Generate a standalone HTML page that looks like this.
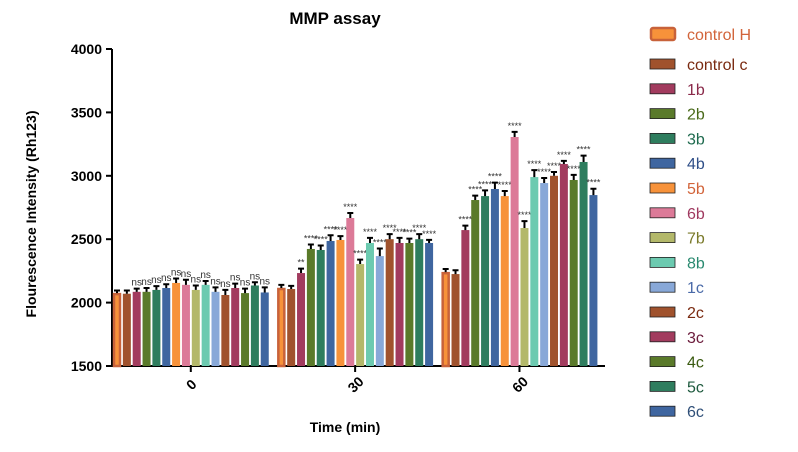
<!DOCTYPE html>
<html><head><meta charset="utf-8"><style>
body{margin:0;background:#fff;width:798px;height:447px;overflow:hidden;font-family:"Liberation Sans",sans-serif}
</style></head><body>
<svg width="798" height="447" xmlns="http://www.w3.org/2000/svg" id="chart">
<text x="335" y="24" text-anchor="middle" font-weight="bold" font-size="17">MMP assay</text>
<text transform="translate(36,214) rotate(-90)" text-anchor="middle" font-weight="bold" font-size="14">Flourescence Intensity (Rh123)</text>
<text x="345" y="432" text-anchor="middle" font-weight="bold" font-size="14">Time (min)</text>
<g id="plot"></g>
<g id="legend"></g>
</svg>
<script>
const categories = ["0","30","60"];
const seriesNames = ["control H","control c","1b","2b","3b","4b","5b","6b","7b","8b","1c","2c","3c","4c","5c","6c"];
const vals0 = [2075,2070,2085,2085,2100,2115,2155,2140,2100,2140,2085,2060,2115,2075,2135,2080];
const vals30 = [2115,2107,2233,2423,2415,2486,2494,2667,2304,2470,2367,2500,2470,2470,2500,2470];
const vals60 = [2240,2225,2572,2809,2840,2896,2840,3306,2588,2990,2943,3000,3093,2967,3109,2848];
const errs0 = [20,25,25,30,30,30,35,40,35,30,35,40,35,35,25,40];
const errs30 = [25,25,35,35,35,45,30,40,35,40,60,40,40,35,40,25];
const errs60 = [25,30,35,35,45,50,40,40,55,55,40,30,25,40,50,50];
const labels0 = ["","","ns","ns","ns","ns","ns","ns","ns","ns","ns","ns","ns","ns","ns","ns"];
const labels30 = ["","","**","****","****","****","****","****","****","****","****","****","****","****","****","****"];
const labels60 = ["","","****","****","****","****","****","****","****","****","****","****","****","****","****","****"];
const yTicks = [1500,2000,2500,3000,3500,4000];
const colors = ["#f7923a","#a0522d","#a23b5e","#5a7a2a","#2e7d5e","#3f66a0","#f7923a","#dc7a98","#b3b86a","#6ccab0","#88a8d8","#a0522d","#a23b5e","#5a7a2a","#2e7d5e","#3f66a0"];
const textColors = ["#d2643a","#7a2a10","#8a2a4a","#4a6a1a","#1e6a4e","#2f4f88","#d2643a","#a03a60","#7a7a2a","#2a8a70","#4a6aa8","#7a2a10","#6a1a3a","#3a5a10","#1e5a3e","#2f4f78"];
const allVals=[vals0,vals30,vals60], allErr=[errs0,errs30,errs60], allLab=[labels0,labels30,labels60];
const NS="http://www.w3.org/2000/svg";
const X0=112, X1=605, Y0=366, Y1=49, YMIN=1500, YMAX=4000;
function y(v){return Y0-(v-YMIN)/(YMAX-YMIN)*(Y0-Y1);}
const groupW=(X1-X0)/categories.length;
const barStep=9.85;
function gStart(g){return X0+1+g*groupW;}
function x(g,i){return gStart(g)+i*barStep;}
function mk(tag,attrs,parent){const e=document.createElementNS(NS,tag);for(const k in attrs)e.setAttribute(k,attrs[k]);parent.appendChild(e);return e;}
const plot=document.getElementById('plot');
let ax=mk('line',{x1:X0,y1:Y1,x2:X0,y2:Y0,stroke:'#000','stroke-width':2},plot);


let bx=mk('line',{x1:X0,y1:Y0,x2:X1,y2:Y0,stroke:'#000','stroke-width':2},plot);


yTicks.forEach(t=>{
  const l=mk('line',{x1:X0-6,x2:X0,y1:y(t),y2:y(t),stroke:'#000','stroke-width':2},plot);
  
  
  const tx=mk('text',{x:X0-10,y:y(t)+5,'text-anchor':'end','font-size':14,'font-weight':'bold'},plot);
  tx.textContent=t;
  
  
});
categories.forEach((c,g)=>{
  const cx=gStart(g)+barStep*8-1;
  const l=mk('line',{x1:cx,x2:cx,y1:Y0,y2:Y0+6,stroke:'#000','stroke-width':2},plot);
  
  
  const tx=mk('text',{transform:`translate(${cx+4},${Y0+22}) rotate(-45)`,'text-anchor':'middle','font-size':14,'font-weight':'bold'},plot);
  tx.textContent=c;
  
  
  allVals[g].forEach((v,i)=>{
    const bxp=x(g,i), top=y(v), e=allErr[g][i];
    let r;
    if(i===0){
      r=mk('rect',{x:bxp+1,y:top+1,width:6,height:Y0-top-1,fill:colors[i],stroke:'#c8623a','stroke-width':2.5},plot);
    } else {
      r=mk('rect',{x:bxp,y:top,width:8,height:Y0-top,fill:colors[i]},plot);
    }
    
    
    const et=y(v+e), mid=bxp+4;
    const el=mk('path',{d:`M${mid},${top} V${et} M${mid-3},${et} H${mid+3}`,stroke:'#000','stroke-width':2,fill:'none'},plot);
    
    
    const lab=allLab[g][i];
    if(lab){
      const lt=mk('text',{x:mid,y:et-3,'text-anchor':'middle','font-size':lab==='ns'?10:9,fill:'#333'},plot);
      lt.textContent=lab;
      
      
    }
  });
});
const leg=document.getElementById('legend');
seriesNames.forEach((n,i)=>{
  const cy = i===0 ? 34 : 64 + (i-1)*24.8;
  let r;
  if(i===0) r=mk('rect',{x:651,y:cy-6,width:24,height:12,rx:2,fill:colors[i],stroke:'#c8623a','stroke-width':2.5},leg);
  else r=mk('rect',{x:650,y:cy-5,width:25,height:10,fill:colors[i],stroke:'#222','stroke-width':0.8},leg);
  
  
  const t=mk('text',{x:687,y:cy+6,'font-size':16,fill:textColors[i]},leg);
  t.textContent=n;
  
  
});
</script>
</body></html>
